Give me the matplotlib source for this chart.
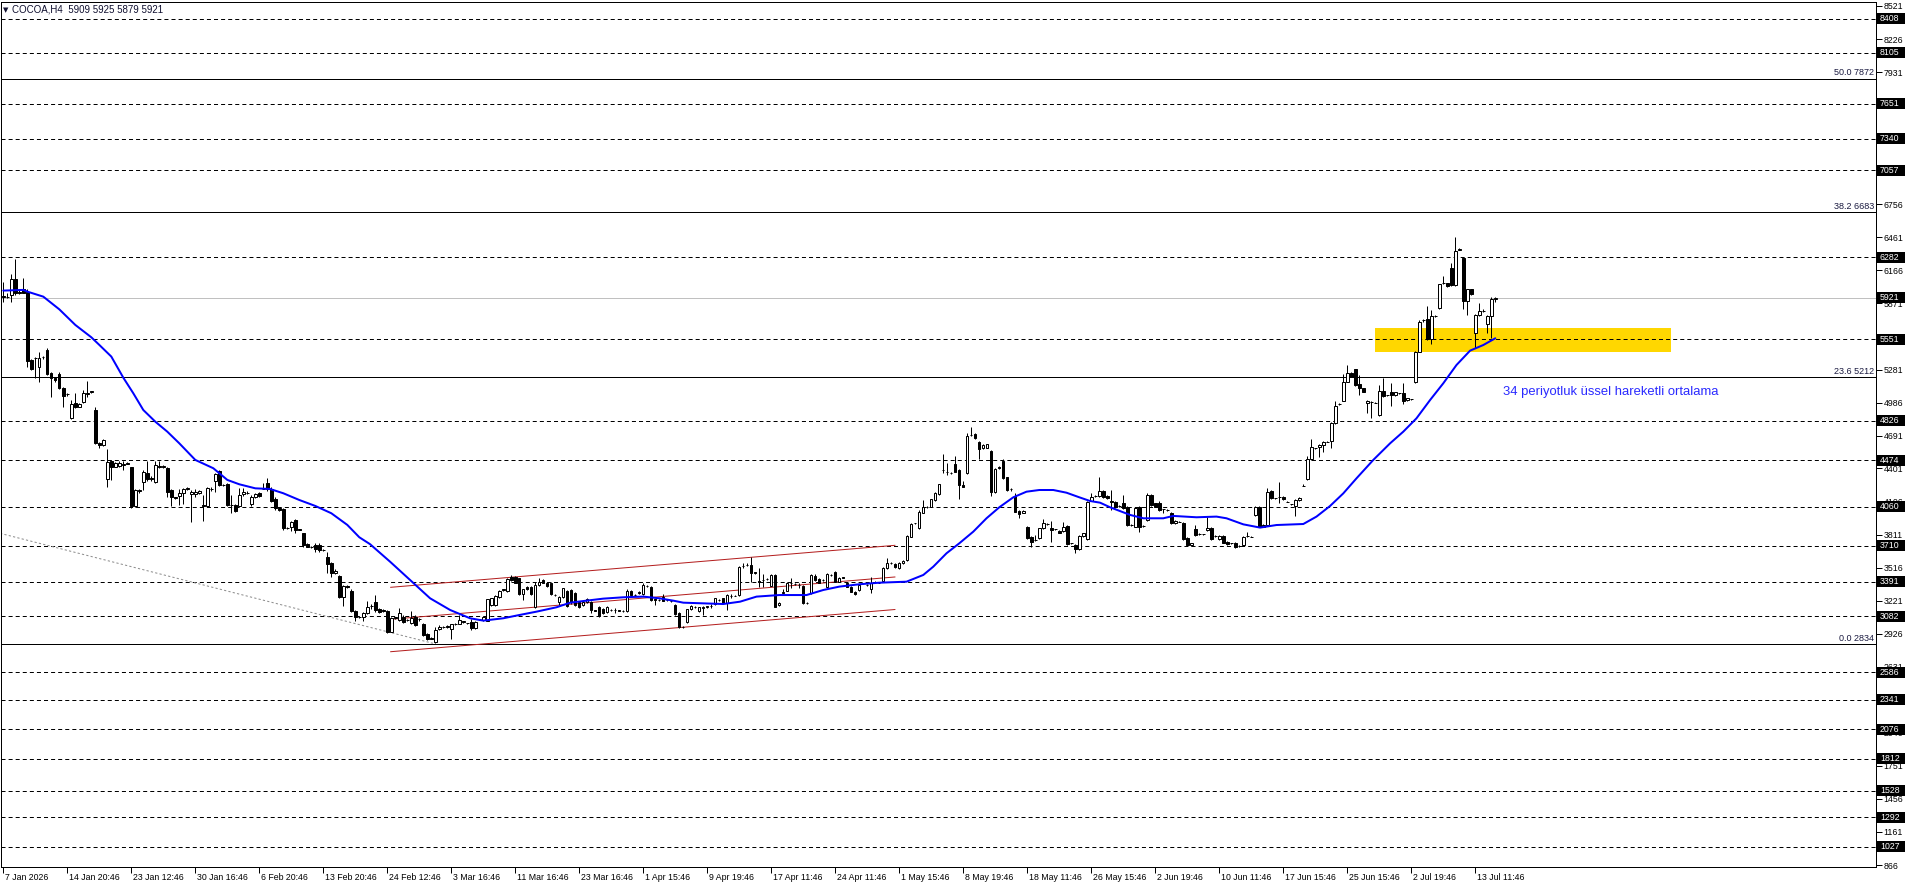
import matplotlib
matplotlib.use("Agg")
import matplotlib.pyplot as plt
from matplotlib.patches import Rectangle

plt.rcParams['font.family'] = ['Liberation Sans', 'DejaVu Sans']
plt.rcParams['lines.scale_dashes'] = False

# ---- H4 candles (bar index 0 = 7 Jan 2026) ----
opens = [
    5935, 5928, 5946, 6086, 5976, 5997, 5976, 5367, 5382, 5302,
    5390, 5456, 5248, 5204, 5242, 5114, 5060, 4847, 4981, 4951,
    4996, 5064, 5083, 4921, 4630, 4610, 4304, 4470, 4416, 4422,
    4435, 4446, 4410, 4066, 4203, 4277, 4357, 4310, 4277, 4420,
    4416, 4402, 4209, 4143, 4155, 4179, 4214, 4173, 4173, 4185,
    4070, 4066, 4217, 4289, 4381, 4253, 4262, 4075, 4075, 4066,
    4170, 4185, 4084, 4149, 4179, 4217, 4268, 4214, 4126, 4045,
    4036, 3867, 3882, 3941, 3858, 3822, 3724, 3704, 3722, 3722,
    3674, 3609, 3555, 3466, 3442, 3258, 3350, 3312, 3130, 3074,
    3080, 3110,
    3170, 3213, 3148, 3139, 3130, 2946, 3070, 3050,
    3074, 3050, 3020, 3074, 3055, 3011, 2925, 2886, 2857, 2970,
    2984, 2990, 2970, 3014, 3014, 3035, 3020, 3035, 2976, 3055,
    3050, 3044, 3183, 3183, 3258, 3320, 3308, 3436, 3430, 3421,
    3278, 3347, 3347, 3163, 3362, 3406, 3382, 3376, 3275, 3213,
    3258, 3308, 3317, 3287, 3213, 3183, 3213, 3213, 3135, 3168,
    3145, 3124, 3139, 3139, 3135, 3130, 3130, 3308, 3272, 3287,
    3281, 3352, 3341, 3234, 3228, 3258, 3228, 3220, 3183, 3115,
    2990, 3035, 3145, 3163, 3130, 3154, 3168, 3174, 3192, 3228,
    3243, 3198, 3263, 3266, 3272,
    3528, 3540, 3540, 3475, 3395,
    3403, 3412, 3356, 3451, 3183, 3293, 3311, 3382, 3368, 3362,
    3353, 3204, 3287, 3442, 3412, 3406, 3347, 3451, 3475, 3391,
    3430, 3382, 3347, 3302, 3317, 3376, 3362, 3323, 3391, 3382,
    3397, 3510, 3555, 3549, 3510, 3555, 3584, 3792, 3910, 3867,
    4006, 4054, 4060, 4119, 4172, 4384, 4372, 4363, 4437, 4386,
    4253, 4357, 4700, 4707, 4639, 4579, 4585, 4559, 4193, 4416,
    4470, 4321, 4214, 4155, 4021, 4006, 3881, 3792, 3762, 3777,
    3866, 3905, 3866, 3858, 3846, 3843, 3887, 3733, 3718, 3679,
    3798, 3769, 4113, 4154, 4155, 4202, 4155,
    4110, 4104, 4066,
    4090, 4060, 3896, 3882, 4060, 3890, 3941, 4164, 4090, 4096,
    4036, 4030, 4006, 3911, 3926, 3917, 3778, 3718, 3858, 3816,
    3813, 3852, 3873, 3798, 3769, 3798, 3748, 3733, 3739, 3709,
    3718, 3798, 3792, 3986, 4060, 3882, 3896, 4199, 4134, 4149,
    4149, 4104, 4080, 4066, 4119, 4247, 4303, 4481, 4580, 4588,
    4609, 4639, 4645, 4808, 4975, 5004, 5174, 5254, 5284, 5150,
    5114, 4981, 4996, 4987, 4877, 5093, 5052, 5084, 5055, 5070,
    5076, 5010, 5016,
    5168, 5441, 5720, 5732, 5554, 5760, 5827,
    6050, 6050, 6183, 6035, 6350, 6278, 5895, 5996, 5604, 5768,
    5805, 5684, 5762, 5909,
]
highs = [
    6065, 5961, 6133, 6267, 5997, 6100, 5997, 5373, 5397, 5441,
    5403, 5477, 5263, 5212, 5263, 5129, 5070, 5010, 5070, 4987,
    5100, 5180, 5094, 4951, 4639, 4660, 4574, 4476, 4455, 4470,
    4470, 4455, 4416, 4214, 4220, 4387, 4470, 4333, 4470, 4470,
    4431, 4410, 4214, 4149, 4214, 4223, 4232, 4209, 4214, 4209,
    4164, 4238, 4238, 4363, 4387, 4262, 4268, 4164, 4084, 4223,
    4223, 4203, 4164, 4185, 4188, 4268, 4312, 4232, 4149, 4054,
    4045, 3876, 3935, 3947, 3864, 3828, 3733, 3713, 3733, 3733,
    3683, 3659, 3570, 3502, 3451, 3362, 3362, 3324, 3139, 3086,
    3125, 3222,
    3190, 3272, 3154, 3145, 3139, 3074, 3080, 3154,
    3090, 3060, 3130, 3090, 3070, 3020, 2930, 2895, 2990, 3005,
    2995, 3005, 3015, 3020, 3094, 3045, 3026, 3056, 3040, 3062,
    3080, 3240, 3250, 3270, 3320, 3330, 3427, 3450, 3445, 3427,
    3330, 3355, 3352, 3391, 3421, 3412, 3390, 3385, 3280, 3265,
    3338, 3320, 3325, 3300, 3220, 3220, 3245, 3220, 3142, 3175,
    3160, 3175, 3148, 3155, 3142, 3136, 3323, 3315, 3280, 3310,
    3377, 3360, 3350, 3240, 3235, 3281, 3234, 3226, 3190, 3120,
    2996, 3150, 3185, 3170, 3168, 3175, 3175, 3190, 3250, 3235,
    3250, 3280, 3278, 3272, 3531,
    3555, 3560, 3614, 3480, 3510,
    3460, 3420, 3460, 3460, 3210, 3323, 3385, 3421, 3375, 3377,
    3360, 3210, 3460, 3460, 3420, 3412, 3466, 3458, 3485, 3435,
    3436, 3390, 3355, 3310, 3370, 3382, 3368, 3436, 3397, 3388,
    3520, 3599, 3562, 3555, 3566, 3585, 3805, 3910, 3917, 4030,
    4119, 4062, 4132, 4190, 4265, 4529, 4452, 4370, 4511, 4392,
    4291, 4713, 4766, 4713, 4645, 4615, 4622, 4565, 4400, 4422,
    4481, 4328, 4228, 4178, 4028, 4030, 3888, 3800, 3807, 3873,
    3947, 3912, 3935, 3864, 3852, 3926, 3893, 3740, 3725, 3805,
    3828, 4110, 4184, 4162, 4327, 4210, 4162,
    4208, 4110, 4072,
    4164, 4066, 3902, 4052, 4066, 3896, 4179, 4170, 4096, 4110,
    4042, 4036, 4012, 3938, 3932, 3925, 3785, 3738, 3896, 3822,
    3820, 3965, 3880, 3805, 3805, 3805, 3755, 3740, 3745, 3716,
    3798, 3837, 3798, 4066, 4066, 3902, 4223, 4205, 4140, 4283,
    4155, 4110, 4086, 4125, 4146, 4262, 4511, 4660, 4586, 4615,
    4645, 4645, 4815, 5004, 4981, 5242, 5322, 5260, 5290, 5233,
    5120, 5010, 5004, 4993, 5144, 5203, 5058, 5159, 5085, 5076,
    5165, 5031, 5022,
    5447, 5720, 5735, 5850, 5812, 5768, 6047,
    6115, 6056, 6234, 6465, 6362, 6285, 6002, 6002, 5775, 5877,
    5820, 5768, 5931, 5925,
]
lows = [
    5887, 5916, 5881, 5946, 5955, 5961, 5308, 5278, 5204, 5174,
    5379, 5230, 5040, 5174, 5106, 4951, 5049, 4841, 4936, 4945,
    4981, 5040, 5076, 4618, 4580, 4604, 4232, 4298, 4410, 4410,
    4387, 4437, 4045, 4060, 4179, 4209, 4292, 4289, 4274, 4402,
    4407, 4149, 4066, 4128, 4075, 4084, 4209, 3926, 4143, 4170,
    3935, 4060, 4203, 4194, 4244, 4244, 4066, 4007, 4016, 4054,
    4155, 4173, 4066, 4140, 4149, 4214, 4203, 4105, 4030, 4024,
    3852, 3858, 3846, 3828, 3852, 3704, 3698, 3695, 3659, 3659,
    3665, 3466, 3436, 3460, 3243, 3175, 3335, 3122, 3044, 3065,
    3044, 3101,
    3150, 3124, 3115, 3120, 2937, 2943, 3060, 3041,
    3025, 3040, 3015, 3000, 3040, 2910, 2870, 2878, 2842, 2960,
    2975, 2978, 2877, 3008, 3010, 3025, 3014, 2961, 2970, 3050,
    3045, 3040, 3178, 3170, 3250, 3310, 3300, 3400, 3375, 3270,
    3228, 3318, 3275, 3155, 3355, 3375, 3345, 3275, 3265, 3183,
    3250, 3165, 3195, 3175, 3155, 3178, 3205, 3109, 3128, 3074,
    3100, 3115, 3130, 3110, 3128, 3125, 3125, 3265, 3265, 3280,
    3275, 3345, 3220, 3183, 3220, 3215, 3220, 3212, 3095, 2976,
    2980, 3025, 3138, 3155, 3122, 3094, 3160, 3160, 3185, 3220,
    3190, 3139, 3250, 3260, 3265,
    3510, 3530, 3391, 3460, 3347,
    3347, 3405, 3350, 3163, 3178, 3288, 3305, 3332, 3360, 3332,
    3190, 3196, 3280, 3400, 3375, 3398, 3340, 3445, 3385, 3385,
    3424, 3340, 3295, 3270, 3310, 3368, 3355, 3287, 3384, 3375,
    3390, 3505, 3548, 3512, 3505, 3550, 3578, 3786, 3903, 3860,
    4000, 4048, 4054, 4112, 4165, 4357, 4342, 4355, 4365, 4125,
    4232, 4350, 4692, 4662, 4481, 4572, 4578, 4155, 4185, 4395,
    4305, 4200, 4200, 4008, 3956, 4000, 3770, 3703, 3757, 3770,
    3860, 3898, 3748, 3851, 3822, 3836, 3720, 3726, 3644, 3672,
    3792, 3762, 4106, 4148, 4148, 4135, 4128,
    4030, 4050, 4058,
    4040, 3890, 3888, 3875, 3837, 3882, 3935, 4068, 4054, 4024,
    4000, 4024, 3905, 3905, 3920, 3762, 3710, 3712, 3800, 3810,
    3806, 3846, 3762, 3790, 3762, 3732, 3718, 3726, 3688, 3702,
    3712, 3790, 3786, 3980, 3876, 3876, 3890, 4128, 4128, 4089,
    4118, 4098, 4074, 3977, 4113, 4240, 4297, 4475, 4574, 4505,
    4550, 4633, 4580, 4800, 4968, 4998, 5168, 5212, 5138, 5055,
    5078, 4891, 4847, 4980, 4870, 5040, 5046, 4957, 5049, 5064,
    4975, 5004, 5010,
    5160, 5435, 5708, 5548, 5509, 5752, 5820,
    6040, 6020, 6028, 6028, 6345, 5818, 5768, 5948, 5470, 5760,
    5795, 5604, 5560, 5879,
]
closes = [
    5930, 5932, 6086, 5961, 5961, 5967, 5361, 5287, 5385, 5382,
    5392, 5239, 5204, 5189, 5114, 5049, 5062, 4975, 4951, 4975,
    5070, 5076, 5086, 4630, 4610, 4654, 4461, 4416, 4446, 4452,
    4438, 4444, 4066, 4209, 4205, 4372, 4304, 4313, 4431, 4416,
    4418, 4194, 4143, 4140, 4179, 4214, 4226, 4194, 4194, 4200,
    4066, 4223, 4220, 4348, 4253, 4250, 4075, 4078, 4024, 4164,
    4191, 4183, 4149, 4170, 4155, 4219, 4214, 4114, 4045, 4030,
    3867, 3865, 3926, 3852, 3856, 3719, 3704, 3702, 3686, 3674,
    3672, 3549, 3472, 3490, 3252, 3353, 3347, 3130, 3074, 3076,
    3110, 3169,
    3175, 3139, 3124, 3128, 2946, 3065, 3074, 3109,
    3035, 3048, 3065, 3005, 3058, 2916, 2877, 2884, 2961, 2990,
    2985, 2992, 3011, 3012, 3050, 3038, 3020, 2976, 3035, 3057,
    3074, 3234, 3243, 3264, 3311, 3323, 3412, 3406, 3382, 3278,
    3323, 3323, 3281, 3362, 3391, 3382, 3353, 3281, 3272, 3258,
    3332, 3174, 3213, 3183, 3163, 3213, 3234, 3139, 3133, 3088,
    3109, 3163, 3141, 3141, 3133, 3131, 3308, 3272, 3270, 3302,
    3362, 3353, 3228, 3232, 3226, 3222, 3228, 3218, 3103, 2984,
    2988, 3145, 3174, 3162, 3163, 3168, 3170, 3176, 3243, 3230,
    3198, 3272, 3265, 3267, 3525,
    3531, 3540, 3466, 3466, 3391,
    3406, 3412, 3451, 3169, 3204, 3295, 3376, 3380, 3366, 3360,
    3198, 3202, 3451, 3406, 3382, 3404, 3457, 3450, 3391, 3427,
    3428, 3347, 3302, 3278, 3362, 3376, 3360, 3382, 3390, 3383,
    3510, 3555, 3556, 3519, 3560, 3579, 3798, 3905, 3911, 4015,
    4054, 4055, 4125, 4184, 4259, 4387, 4370, 4362, 4372, 4253,
    4238, 4689, 4701, 4668, 4570, 4609, 4615, 4193, 4392, 4401,
    4312, 4208, 4216, 4015, 3994, 4024, 3777, 3748, 3764, 3866,
    3911, 3906, 3852, 3857, 3828, 3881, 3727, 3732, 3679, 3798,
    3822, 4104, 4143, 4155, 4202, 4143, 4134,
    4105, 4060, 4065,
    4045, 3896, 3895, 4045, 3882, 3889, 4164, 4075, 4060, 4030,
    4036, 4030, 3911, 3932, 3925, 3769, 3718, 3733, 3807, 3815,
    3812, 3867, 3769, 3799, 3798, 3739, 3724, 3733, 3703, 3710,
    3792, 3799, 3793, 4060, 3882, 3896, 4194, 4134, 4133, 4148,
    4125, 4105, 4081, 4119, 4140, 4246, 4481, 4588, 4579, 4609,
    4639, 4640, 4808, 4960, 4974, 5174, 5248, 5218, 5144, 5114,
    5084, 5004, 4995, 4986, 5093, 5046, 5051, 5055, 5079, 5069,
    5004, 5025, 5015,
    5441, 5708, 5723, 5554, 5759, 5762, 6041,
    6050, 6026, 6035, 6341, 6353, 5895, 5996, 5955, 5768, 5806,
    5807, 5762, 5910, 5921,
]

# 34-period EMA (bar index, price)
ema_idx = [0, 5, 6, 10, 14, 18, 22, 24, 27, 30, 32.5, 35, 38, 41, 44, 48, 52.5, 56, 59, 63,
           66.7, 70, 74, 78, 82, 86, 89, 91.7, 96.7, 101.7, 106.7, 111.7, 116.7, 120, 125, 129,
           133.3, 138.3, 141.7, 145.8, 150, 155, 160, 164, 167.5, 170, 175, 180, 184.2, 188.3,
           194, 200.8, 205, 209, 214, 219, 225.8, 230, 232.5, 235.8, 239, 242.5, 245.8, 249,
           252.5, 255.8, 259, 262.5, 265.8, 269, 271.7, 274.2, 276.7, 281.7, 285, 290, 292.5,
           298.3, 303.3, 305.8, 310, 314.2, 318.3, 325, 328.3, 331.7, 335, 338.3, 342.5, 346.7,
           350, 353.3, 356.7, 360, 363.3, 366.7, 370, 373]
ema_val = [5985, 5991, 5976, 5931, 5818, 5679, 5569, 5501, 5397, 5209, 5070, 4921, 4817, 4728,
           4624, 4476, 4402, 4298, 4259, 4223, 4217, 4179, 4119, 4066, 4001, 3897, 3787, 3725,
           3569, 3406, 3243, 3139, 3065, 3044, 3065, 3094, 3124, 3163, 3204, 3222, 3240, 3252,
           3258, 3243, 3222, 3204, 3198, 3192, 3213, 3258, 3272, 3272, 3317, 3347, 3368, 3382,
           3391, 3451, 3525, 3644, 3733, 3837, 3956, 4054, 4143, 4193, 4208, 4208, 4184, 4143,
           4110, 4095, 4054, 3986, 3956, 3956, 3977, 3965, 3971, 3956, 3902, 3873, 3896, 3905,
           3971, 4066, 4178, 4312, 4476, 4624, 4728, 4847, 5010, 5159, 5322, 5450, 5500, 5560]

# horizontal levels
dash_levels = [8408, 8105, 7651, 7340, 7057, 6282, 5551, 4826, 4474, 4060, 3710, 3391, 3082,
               2586, 2341, 2076, 1812, 1528, 1292, 1027]
fib_levels = [7872, 6683, 5212, 2834]
fib_names = ["50.0 7872", "38.2 6683", "23.6 5212", "0.0 2834"]
last_price = 5921
price_ticks = [8521, 8226, 7931, 6756, 6461, 6166, 5871, 5281, 4986, 4691, 4401, 4106, 3811,
               3516, 3221, 2926, 2631, 2046, 1751, 1456, 1161, 866]

# trendlines: (bar, price) endpoints
channel_upper = ([96.85, 222.9], [3341, 3715])
channel_mid = ([96.85, 222.9], [3056, 3433])
channel_low = ([96.85, 222.9], [2767, 3143])
grey_trend = ([-0.8, 107.4], [3822, 2842])
zone_bars = (342.9, 416.9)
zone_prices = (5440, 5654)

time_labels = ["7 Jan 2026", "14 Jan 20:46", "23 Jan 12:46", "30 Jan 16:46", "6 Feb 20:46",
               "13 Feb 20:46", "24 Feb 12:46", "3 Mar 16:46", "11 Mar 16:46", "23 Mar 16:46",
               "1 Apr 15:46", "9 Apr 19:46", "17 Apr 11:46", "24 Apr 11:46", "1 May 15:46",
               "8 May 19:46", "18 May 11:46", "26 May 15:46", "2 Jun 19:46", "10 Jun 11:46",
               "17 Jun 15:46", "25 Jun 15:46", "2 Jul 19:46", "13 Jul 11:46"]
bars_per_label = 16

# ---- figure ----
W, H = 1916, 888
PX = 0.72  # one pixel in points at dpi 100
L_PX, R_PX, T_PX, B_PX = 1, 1876, 2, 867
fig = plt.figure(figsize=(W / 100, H / 100), dpi=100)
fig.patch.set_facecolor("white")
ax = fig.add_axes([L_PX / W, 1 - B_PX / H, (R_PX - L_PX) / W, (B_PX - T_PX) / H])
ax.set_xlim(-0.575, 468.175)
ax.set_ylim(848.6, 8556.6)
for s in ax.spines.values():
    s.set_linewidth(PX)
    s.set_color("black")

# levels
for v in dash_levels:
    ax.axhline(v, color="black", lw=PX, dashes=(2.9, 2.2), zorder=2)
for v in fib_levels:
    ax.axhline(v, color="black", lw=PX, zorder=2)
ax.axhline(last_price, color="#c0c0c0", lw=PX, zorder=2)
for v, name in zip(fib_levels, fib_names):
    ax.text(1.0 - 2 / 1875, v + 12, name, transform=ax.get_yaxis_transform(),
            ha="right", va="bottom", fontsize=6.5, color="#1a1a40", zorder=6)

# yellow zone
ax.add_patch(Rectangle((zone_bars[0], zone_prices[0]), zone_bars[1] - zone_bars[0],
                       zone_prices[1] - zone_prices[0], facecolor="#ffd700",
                       edgecolor="none", zorder=1))

# trend / channel lines
for xs, ys in (channel_upper, channel_mid, channel_low):
    ax.plot(xs, ys, color="#b41e1e", lw=PX, zorder=2.5)
ax.plot(*grey_trend, color="#8c8c8c", lw=PX, dashes=(1.6, 1.6), zorder=2.5)

# candles
n = min(len(opens), len(highs), len(lows), len(closes))
xs = list(range(n))
ax.vlines(xs, lows[:n], highs[:n], colors="black", lw=PX, zorder=3)
bottoms = [min(o, c) for o, c in zip(opens[:n], closes[:n])]
heights = [max(abs(c - o), 1) for o, c in zip(opens[:n], closes[:n])]
fills = ["white" if c >= o else "black" for o, c in zip(opens[:n], closes[:n])]
ax.bar(xs, heights, bottom=bottoms, width=0.6, color=fills, edgecolor="black",
       linewidth=PX, zorder=4)

# EMA
ax.plot(ema_idx, ema_val, color="#0000ff", lw=2 * PX, zorder=5, solid_capstyle="round")
ax.text(374.9, 5081, "34 periyotluk üssel hareketli ortalama", color="#2a2aff",
        fontsize=9.4, ha="left", va="center", zorder=6)

# price scale
ax.yaxis.tick_right()
ax.set_yticks(price_ticks)
ax.set_yticklabels([str(v) for v in price_ticks])
ax.tick_params(axis="y", length=4, width=PX, pad=1.5, labelsize=6.3, colors="black")
ytr = ax.get_yaxis_transform()
box_h = 11 / 0.11222
for v in dash_levels + [last_price]:
    ax.add_patch(Rectangle((1876 / 1875 - 0.0, v - box_h / 2), 28 / 1875, box_h,
                           transform=ytr, facecolor="black", edgecolor="none",
                           clip_on=False, zorder=10))
    ax.text(1879 / 1875, v, str(v), transform=ytr, color="white", fontsize=6.3,
            ha="left", va="center", clip_on=False, zorder=11)

# time scale
tick_pos = [k * bars_per_label for k in range(len(time_labels))]
ax.set_xticks(tick_pos)
ax.set_xticklabels([])
ax.tick_params(axis="x", length=4, width=PX, direction="out")
xtr = ax.get_xaxis_transform()
for p, lab in zip(tick_pos, time_labels):
    ax.text(p + 0.5, -10 / 865, lab, transform=xtr, ha="left", va="center",
            fontsize=6.3, color="black")

# header
fig.text(3 / W, 1 - 10 / H, "\u25bc", fontsize=5, family="DejaVu Sans", va="center",
         color="#101030")
fig.text(12 / W, 1 - 10 / H, "COCOA,H4  5909 5925 5879 5921", fontsize=7, va="center",
         ha="left", color="#101030")

fig.savefig("out.png", dpi=100)
